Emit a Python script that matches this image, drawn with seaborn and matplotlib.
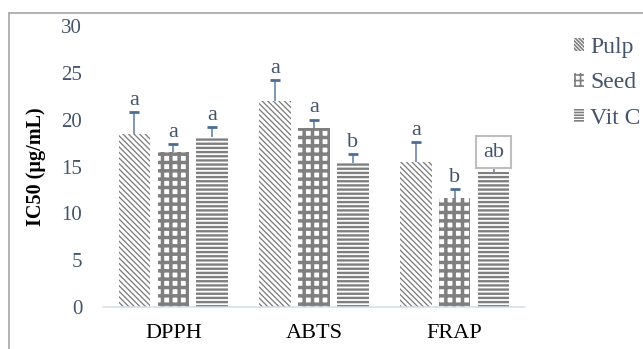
import numpy as np
import pandas as pd
import matplotlib
matplotlib.use("Agg")
import matplotlib.pyplot as plt
from matplotlib.patches import Patch
from matplotlib.lines import Line2D
import seaborn as sns

# ---- data ----
categories = ["DPPH", "ABTS", "FRAP"]
series = ["Pulp", "Seed", "Vit C"]
pulp = [18.5, 22.0, 15.5]
seed = [16.5, 19.1, 11.6]
vitc = [18.2, 15.4, 14.4]
pulp_sd = [2.3, 2.2, 2.1]
seed_sd = [0.9, 0.9, 0.95]
vitc_sd = [1.0, 0.95, 0.6]
pulp_letters = ["a", "a", "a"]
seed_letters = ["a", "a", "b"]
vitc_letters = ["a", "b", "ab"]
boxed_labels = ["ab"]
y_ticks = [0, 5, 10, 15, 20, 25, 30]
y_label = "IC50 (µg/mL)"

values = [pulp, seed, vitc]
sds = [pulp_sd, seed_sd, vitc_sd]
letters = [pulp_letters, seed_letters, vitc_letters]

df = pd.DataFrame({
    "method": [c for s in series for c in categories],
    "sample": [s for s in series for c in categories],
    "value": [v for vals in values for v in vals],
})

sns.set_style("white")
plt.rcParams["font.family"] = ["Liberation Serif", "DejaVu Serif"]
plt.rcParams["hatch.linewidth"] = 1.2

fig = plt.figure(figsize=(6.43, 3.49), dpi=100)
ax = fig.add_axes([0.1602, 0.1203, 0.6563, 0.8052])

sns.barplot(data=df, x="method", y="value", hue="sample", order=categories,
            hue_order=series, palette=["white"] * 3, width=0.83, gap=0.19,
            errorbar=None, legend=False, ax=ax)

hatches = ["\\" * 6, "++", "----"]
hatch_lw = [0.95, 2.5, 1.7]
hatch_col = "#7F7F7F"
for cont, h, hl in zip(ax.containers, hatches, hatch_lw):
    for bar in cont:
        bar.set_hatch(h)
        bar.set_edgecolor(hatch_col)
        bar.set_linewidth(0)
        if hasattr(bar, "set_hatch_linewidth"):
            bar.set_hatch_linewidth(hl)

err_col = "#7D96B8"
cap_col = "#4D6C95"
txt_col = "#44546A"
for cont, sd, labs in zip(ax.containers, sds, letters):
    xs = np.array([b.get_x() + b.get_width() / 2 for b in cont])
    ys = np.array([b.get_height() for b in cont])
    sd = np.array(sd)
    ax.errorbar(xs, ys, yerr=[np.zeros_like(sd), sd], fmt="none",
                ecolor=err_col, elinewidth=1.4, capsize=0, zorder=3)
    ax.plot(xs, ys + sd, ls="none", marker="_", ms=7.5, mew=2.0,
            color=cap_col, zorder=4)
    for x, top, lab in zip(xs, ys + sd, labs):
        if lab in boxed_labels:
            ax.annotate(lab, xy=(x, top), xytext=(0, 3.5), textcoords="offset points",
                        ha="center", va="bottom", fontsize=16, color=txt_col, zorder=6,
                        bbox=dict(boxstyle="square,pad=0.3", fc="white",
                                  ec="#BFBFBF", lw=1.5))
        else:
            ax.annotate(lab, xy=(x, top), xytext=(0, 8.5), textcoords="offset points",
                        ha="center", va="center", fontsize=16, color=txt_col, zorder=6)

ax.set_ylim(0, 30)
ax.set_xlim(-0.5, 2.5)
ax.set_yticks(y_ticks)
ax.set_yticklabels([str(t) for t in y_ticks])
ax.tick_params(axis="y", length=0, pad=15, labelsize=15, labelcolor=txt_col)
ax.tick_params(axis="x", length=0, pad=12, labelsize=16, labelcolor="black")
ax.set_xlabel("")
ax.set_ylabel(y_label, fontsize=14.5, fontweight="bold", color="black")
ax.yaxis.set_label_coords(-0.135, 0.5)
for s in ["top", "right", "left"]:
    ax.spines[s].set_visible(False)
ax.spines["bottom"].set_color("#D6DCE4")
ax.spines["bottom"].set_linewidth(1.1)
ax.grid(False)

legend_hatches = ["\\" * 9, "+++", "------"]
handles = [Patch(facecolor="white", edgecolor=hatch_col, linewidth=0, hatch=h)
           for h in legend_hatches]
for hd, hl in zip(handles, [0.8, 1.6, 1.2]):
    if hasattr(hd, "set_hatch_linewidth"):
        hd.set_hatch_linewidth(hl)
fig.legend(handles, series, loc="upper left", bbox_to_anchor=(0.893, 0.895),
           frameon=False, fontsize=17, labelcolor=txt_col, handlelength=0.42,
           handleheight=0.5, handletextpad=0.25, labelspacing=0.62,
           borderpad=0, borderaxespad=0)

# outer frame (top and left edge)
fig.add_artist(Line2D([9 / 643, 1.0], [1 - 13 / 349, 1 - 13 / 349],
                      transform=fig.transFigure, color="#A6A6A6", lw=1.2))
fig.add_artist(Line2D([9 / 643, 9 / 643], [0.0, 1 - 13 / 349],
                      transform=fig.transFigure, color="#A6A6A6", lw=1.2))

fig.savefig("out.png", dpi=100)
